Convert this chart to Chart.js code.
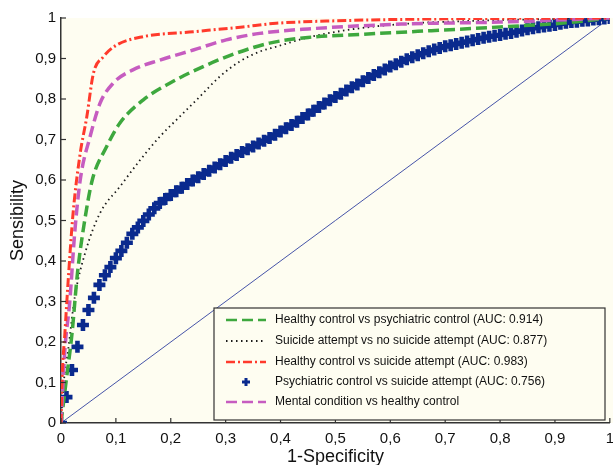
<!DOCTYPE html>
<html>
<head>
<meta charset="utf-8">
<script src="https://cdn.jsdelivr.net/npm/chart.js@4.4.0/dist/chart.umd.min.js"></script>
<style>
  html, body { margin: 0; padding: 0; background: #ffffff; overflow: hidden; }
  #wrap { width: 621px; height: 465px; }
</style>
</head>
<body>
<div id="wrap"><canvas id="rocChart" width="621" height="465"></canvas></div>
<script>
// ROC curves (x = 1-specificity, y = sensitivity)
const greenX = [0, 0.01, 0.02, 0.03, 0.042, 0.057, 0.083, 0.107, 0.15, 0.198, 0.259, 0.319, 0.38, 0.45, 0.55, 0.65, 0.8, 0.92, 1];
const greenY = [0, 0.11, 0.22, 0.37, 0.49, 0.60, 0.682, 0.74, 0.798, 0.839, 0.88, 0.913, 0.938, 0.952, 0.96, 0.967, 0.978, 0.988, 1];

const blackX = [0, 0.005, 0.013, 0.025, 0.044, 0.071, 0.107, 0.144, 0.18, 0.216, 0.253, 0.289, 0.325, 0.362, 0.392, 0.45, 0.53, 0.62, 0.75, 1];
const blackY = [0, 0.1, 0.18, 0.31, 0.42, 0.518, 0.583, 0.649, 0.707, 0.756, 0.806, 0.855, 0.892, 0.917, 0.929, 0.952, 0.972, 0.985, 0.993, 1];

const redX = [0, 0.002, 0.007, 0.013, 0.022, 0.035, 0.047, 0.059, 0.077, 0.101, 0.15, 0.241, 0.331, 0.392, 0.5, 0.7, 1];
const redY = [0, 0.11, 0.22, 0.35, 0.518, 0.666, 0.756, 0.863, 0.904, 0.933, 0.954, 0.966, 0.978, 0.987, 0.993, 0.998, 1];

// psychiatric control vs suicide attempt: one marker every 0.01 of 1-specificity
const blueX = [0, 0.01, 0.02, 0.03, 0.04, 0.05, 0.06, 0.07, 0.08, 0.09,
  0.1, 0.11, 0.12, 0.13, 0.14, 0.15, 0.16, 0.17, 0.18, 0.19,
  0.2, 0.21, 0.22, 0.23, 0.24, 0.25, 0.26, 0.27, 0.28, 0.29,
  0.3, 0.31, 0.32, 0.33, 0.34, 0.35, 0.36, 0.37, 0.38, 0.39,
  0.4, 0.41, 0.42, 0.43, 0.44, 0.45, 0.46, 0.47, 0.48, 0.49,
  0.5, 0.51, 0.52, 0.53, 0.54, 0.55, 0.56, 0.57, 0.58, 0.59,
  0.6, 0.61, 0.62, 0.63, 0.64, 0.65, 0.66, 0.67, 0.68, 0.69,
  0.7, 0.71, 0.72, 0.73, 0.74, 0.75, 0.76, 0.77, 0.78, 0.79,
  0.8, 0.81, 0.82, 0.83, 0.84, 0.85, 0.86, 0.87, 0.88, 0.89,
  0.9, 0.91, 0.92, 0.93, 0.94, 0.95, 0.96, 0.97, 0.98, 0.99, 1];
const blueY = [0, 0.064, 0.131, 0.188, 0.242, 0.279, 0.309, 0.341, 0.365, 0.385,
  0.407, 0.425, 0.445, 0.467, 0.483, 0.499, 0.515, 0.530, 0.543, 0.553,
  0.563, 0.572, 0.581, 0.590, 0.599, 0.607, 0.615, 0.623, 0.631, 0.639,
  0.647, 0.655, 0.662, 0.669, 0.676, 0.683, 0.690, 0.697, 0.704, 0.712,
  0.720, 0.728, 0.736, 0.744, 0.753, 0.762, 0.771, 0.780, 0.789, 0.797,
  0.805, 0.813, 0.821, 0.829, 0.836, 0.844, 0.852, 0.859, 0.866, 0.873,
  0.880, 0.886, 0.892, 0.898, 0.903, 0.908, 0.913, 0.918, 0.922, 0.926,
  0.930, 0.933, 0.936, 0.939, 0.942, 0.945, 0.948, 0.951, 0.954, 0.956,
  0.958, 0.961, 0.963, 0.966, 0.969, 0.972, 0.975, 0.977, 0.979, 0.981,
  0.983, 0.986, 0.988, 0.990, 0.991, 0.993, 0.994, 0.996, 0.997, 0.999, 1];

const magentaX = [0, 0.007, 0.016, 0.025, 0.035, 0.053, 0.071, 0.095, 0.131, 0.18, 0.241, 0.301, 0.362, 0.45, 0.62, 0.8, 1];
const magentaY = [0, 0.18, 0.30, 0.47, 0.60, 0.707, 0.789, 0.839, 0.872, 0.896, 0.921, 0.946, 0.962, 0.973, 0.985, 0.99, 1];

// chance line
const diagX = [0, 1];
const diagY = [0, 1];

const seriesLabels = [
  'Healthy control vs psychiatric control (AUC: 0.914)',
  'Suicide attempt vs no suicide attempt (AUC: 0.877)',
  'Healthy control vs suicide attempt (AUC: 0.983)',
  'Psychiatric control vs suicide attempt (AUC: 0.756)',
  'Mental condition vs healthy control'
];
const tickValues = [0, 0.1, 0.2, 0.3, 0.4, 0.5, 0.6, 0.7, 0.8, 0.9, 1];

const FONT = '"Liberation Sans", Arial, Helvetica, sans-serif';

function toPoints(xs, ys) {
  return xs.map((x, i) => ({ x: x, y: ys[i] }));
}

function fmtTick(v) {
  const r = Math.round(v * 10) / 10;
  if (r === 0) return '0';
  if (r === 1) return '1';
  return r.toFixed(1).replace('.', ',');
}

// cream plot background
const plotBackground = {
  id: 'plotBackground',
  beforeDraw(chart) {
    const { ctx, chartArea } = chart;
    ctx.save();
    ctx.fillStyle = '#fefdf1';
    ctx.fillRect(chartArea.left, chartArea.top, chartArea.right - chartArea.left + 10, chartArea.bottom - chartArea.top);
    ctx.restore();
  }
};

// ticks drawn inside the axes, like the original figure
const innerTicks = {
  id: 'innerTicks',
  afterDatasetsDraw(chart) {
    const { ctx, chartArea, scales } = chart;
    ctx.save();
    ctx.strokeStyle = '#333333';
    ctx.lineWidth = 1.2;
    tickValues.forEach(v => {
      const px = scales.x.getPixelForValue(v);
      ctx.beginPath();
      ctx.moveTo(px, chartArea.bottom);
      ctx.lineTo(px, chartArea.bottom - 5);
      ctx.stroke();
      const py = scales.y.getPixelForValue(v);
      ctx.beginPath();
      ctx.moveTo(chartArea.left, py);
      ctx.lineTo(chartArea.left + 5, py);
      ctx.stroke();
    });
    ctx.restore();
  }
};

// legend box inside the plot (lower right)
const boxLegend = {
  id: 'boxLegend',
  afterDraw(chart) {
    const { ctx } = chart;
    const left = 214, top = 308, w = 391, h = 112;
    ctx.save();
    ctx.fillStyle = '#fefdf1';
    ctx.fillRect(left, top, w, h);
    ctx.strokeStyle = '#333333';
    ctx.lineWidth = 1.2;
    ctx.strokeRect(left, top, w, h);

    const rows = [320, 341, 362, 382, 402];
    ctx.font = '12px ' + FONT;
    ctx.textBaseline = 'middle';
    rows.forEach((y, i) => {
      const ds = chart.data.datasets[i];
      ctx.save();
      if (ds.showLine) {
        ctx.strokeStyle = ds.borderColor;
        ctx.lineWidth = Math.min(ds.borderWidth, 2.6);
        ctx.setLineDash(ds.borderDash || []);
        ctx.beginPath();
        ctx.moveTo(226, y);
        ctx.lineTo(266, y);
        ctx.stroke();
      } else {
        ctx.strokeStyle = ds.pointBorderColor;
        ctx.lineWidth = 3;
        ctx.beginPath();
        ctx.moveTo(242, y); ctx.lineTo(250, y);
        ctx.moveTo(246, y - 4); ctx.lineTo(246, y + 4);
        ctx.stroke();
      }
      ctx.restore();
      ctx.fillStyle = '#111111';
      ctx.fillText(seriesLabels[i], 275, y);
    });
    ctx.restore();
  }
};

const lineDefaults = { showLine: true, pointRadius: 0, cubicInterpolationMode: 'monotone' };

const ctx = document.getElementById('rocChart').getContext('2d');
const chart = new Chart(ctx, {
  type: 'scatter',
  data: {
    datasets: [
      Object.assign({}, lineDefaults, {
        label: seriesLabels[0],
        data: toPoints(greenX, greenY),
        borderColor: '#3ea83e',
        borderWidth: 3.5,
        borderDash: [11, 5],
        order: 3
      }),
      Object.assign({}, lineDefaults, {
        label: seriesLabels[1],
        data: toPoints(blackX, blackY),
        borderColor: '#1a1a1a',
        borderWidth: 1.8,
        borderDash: [1.5, 3.5],
        order: 4
      }),
      Object.assign({}, lineDefaults, {
        label: seriesLabels[2],
        data: toPoints(redX, redY),
        borderColor: '#ff3a2c',
        borderWidth: 3,
        borderDash: [9, 3, 2, 3],
        order: 1
      }),
      {
        label: seriesLabels[3],
        data: toPoints(blueX, blueY),
        showLine: false,
        pointStyle: 'cross',
        pointRadius: 6,
        pointBorderWidth: 4.6,
        pointBorderColor: '#0a2a8e',
        pointBackgroundColor: '#0a2a8e',
        borderColor: '#0a2a8e',
        order: 5
      },
      Object.assign({}, lineDefaults, {
        label: seriesLabels[4],
        data: toPoints(magentaX, magentaY),
        borderColor: '#c65cc0',
        borderWidth: 3.5,
        borderDash: [11, 5],
        order: 2
      }),
      Object.assign({}, lineDefaults, {
        label: 'diagonal',
        data: toPoints(diagX, diagY),
        borderColor: '#4654a8',
        borderWidth: 1,
        order: 6
      })
    ]
  },
  options: {
    responsive: false,
    animation: false,
    layout: { padding: { top: 18, left: 7, right: 0, bottom: 0 } },
    plugins: {
      legend: { display: false },
      tooltip: { enabled: false }
    },
    scales: {
      x: {
        type: 'linear',
        min: 0,
        max: 1,
        afterBuildTicks: axis => { axis.ticks = tickValues.map(v => ({ value: v })); },
        afterFit: axis => { axis.height = 42; },
        ticks: {
          callback: fmtTick,
          color: '#111111',
          font: { family: FONT, size: 15 },
          padding: 7,
          maxRotation: 0
        },
        grid: { display: false, drawTicks: false },
        border: { display: true, color: '#333333', width: 1.5 },
        title: {
          display: true,
          text: '1-Specificity',
          color: '#111111',
          font: { family: FONT, size: 18, lineHeight: 1 },
          padding: { top: 0, bottom: -1 }
        }
      },
      y: {
        type: 'linear',
        min: 0,
        max: 1,
        afterBuildTicks: axis => { axis.ticks = tickValues.map(v => ({ value: v })); },
        afterFit: axis => { axis.width = 54; },
        ticks: {
          callback: fmtTick,
          color: '#111111',
          font: { family: FONT, size: 15 },
          padding: 5
        },
        grid: { display: false, drawTicks: false },
        border: { display: true, color: '#333333', width: 1.5 },
        title: {
          display: true,
          text: 'Sensibility',
          color: '#111111',
          font: { family: FONT, size: 18, lineHeight: 1 },
          padding: { top: 2, bottom: 0 }
        }
      }
    }
  },
  plugins: [plotBackground, innerTicks, boxLegend]
});
</script>
</body>
</html>
